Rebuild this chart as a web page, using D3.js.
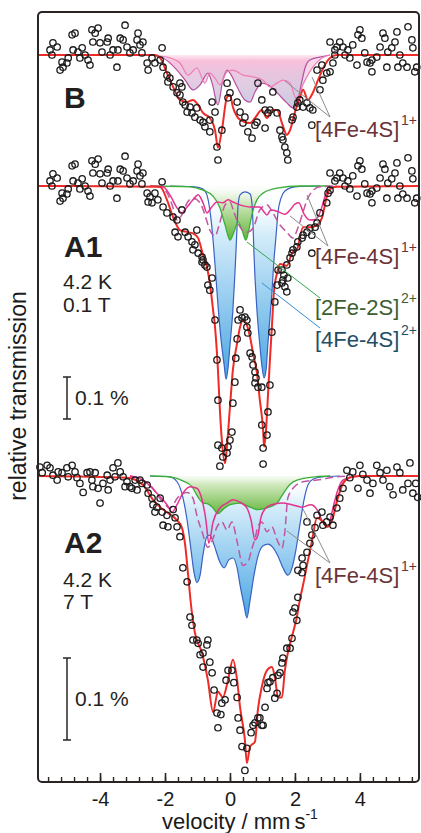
<!DOCTYPE html>
<html>
<head>
<meta charset="utf-8">
<script src="https://cdn.jsdelivr.net/npm/d3@7"></script>
<style>
body { margin: 0; background: #fff; }
svg { display: block; }
text { font-family: "Liberation Sans", Arial, sans-serif; }
</style>
</head>
<body>
<div id="chart"></div>
<script>
// velocity (mm/s), relative transmission change (%)
var dataB = [
  [-5.45,0.029],[-5.54,0.012],[-5.48,0],[-5.32,0.019],[-5.17,-0.017],[-5.14,-0.029],[-5.23,-0.036],[-5.02,-0.019],[-4.98,-0.007],
  [-4.86,0.048],[-4.77,0.052],[-4.83,0.012],[-4.68,0.007],[-4.55,0.017],[-4.62,-0.007],[-4.46,0],[-4.37,-0.012],[-4.31,-0.024],
  [-4.25,0.06],[-4.22,0.031],[-4.15,0.052],[-4.06,0.064],[-4.0,0.029],[-3.94,0.007],[-3.78,0.031],[-3.75,0.040],[-3.69,0],
  [-3.6,0.012],[-3.48,-0.029],[-3.45,0.012],[-3.38,0.040],[-3.23,0.071],[-3.29,0.036],[-3.17,0.019],[-3.08,0.005],[-2.98,0.012],
  [-2.86,0.036],[-2.83,0.052],[-2.77,0.024],[-2.71,0.005],[-2.68,0.031],[-2.55,-0.019],[-2.52,-0.036],[-2.4,-0.007],[-2.31,-0.019],
  [-2.09,0.017],[-2.15,-0.012],
  [-2.06,-0.029],[-1.94,-0.048],[-1.85,-0.055],[-1.91,-0.064],[-1.75,-0.076],[-1.54,-0.067],[-1.48,-0.076],[-1.63,-0.090],
  [-1.54,-0.095],[-1.45,-0.112],[-1.38,-0.119],[-1.23,-0.124],[-1.32,-0.136],[-1.17,-0.138],[-1.08,-0.148],[-1.02,-0.126],
  [-0.92,-0.155],[-0.83,-0.160],[-0.77,-0.171],[-0.62,-0.155],[-0.55,-0.112],[-0.46,-0.136],[-0.62,-0.183],[-0.25,-0.179],
  [-0.40,-0.219],[-0.37,-0.250],[-0.09,-0.067],[0,-0.090],[-0.06,-0.102],[0.22,-0.112],[0.31,-0.136],[0.46,-0.148],[0.40,-0.162],
  [0.55,-0.183],[0.68,-0.198],[0.77,-0.167],[0.83,-0.160],[0.86,-0.067],[0.98,-0.107],[1.08,-0.131],[1.08,-0.174],[1.17,-0.138],
  [1.23,-0.131],[1.32,-0.088],[1.45,-0.138],[1.54,-0.179],[1.60,-0.195],[1.63,-0.202],[1.69,-0.219],[1.75,-0.233],[1.78,-0.25],
  [1.94,-0.148],[1.91,-0.155],[2.06,-0.124],[2.09,-0.114],[2.15,-0.107],[2.25,-0.124],[2.37,-0.114],[2.46,-0.126],[2.55,-0.131],
  [2.52,-0.167],[2.68,-0.036],[2.83,-0.024],[2.98,-0.043],[3.08,-0.040],[3.17,-0.019],[3.23,0],[2.77,-0.083],[2.86,-0.060],
  [3.08,0.031],[3.23,0.012],[3.38,0.031],[3.48,0.019],[3.54,0],[3.63,0.012],[3.69,-0.007],[3.78,0.024],[3.94,0.048],[4.0,0.060],
  [4.06,0.040],[4.15,0.005],[4.22,-0.017],[4.31,-0.019],[4.37,-0.040],[4.52,-0.005],[4.62,0.019],[4.71,0.052],[4.77,0.040],
  [4.83,-0.029],[4.86,0.007],[4.98,0.017],[5.08,0.031],[5.14,0.055],[5.17,-0.029],[5.23,0],[5.32,-0.019],[5.45,-0.029],
  [5.48,0.067],[5.6,0.036],[5.63,0.017],[5.69,-0.040],[5.75,-0.029],[3.91,-0.024],[4.37,-0.012],[3.29,0.019]
];
var fitB = [
  [-5.9,0],[-2.31,0],[-2.15,-0.007],[-1.94,-0.043],[-1.75,-0.076],[-1.54,-0.107],[-1.32,-0.112],[-1.14,-0.107],[-0.98,-0.119],
  [-0.83,-0.138],[-0.62,-0.150],[-0.46,-0.179],[-0.37,-0.221],[-0.25,-0.179],[-0.09,-0.100],[0,-0.095],[0.09,-0.124],[0.25,-0.150],
  [0.46,-0.160],[0.62,-0.162],[0.77,-0.150],[0.98,-0.131],[1.14,-0.150],[1.29,-0.131],[1.45,-0.131],[1.60,-0.162],[1.75,-0.190],
  [1.85,-0.179],[2.0,-0.136],[2.15,-0.102],[2.25,-0.083],[2.40,-0.107],[2.55,-0.090],[2.71,-0.060],[2.92,-0.024],[3.08,-0.007],
  [3.29,0],[5.85,0]
];
var subB1 = [
  [-2.46,0],[-2.06,-0.007],[-1.63,-0.036],[-1.38,-0.060],[-1.14,-0.083],[-0.92,-0.071],[-0.68,-0.043],[-0.55,-0.067],[-0.37,-0.119],
  [-0.22,-0.060],[-0.09,-0.036],[0,-0.043],[0.22,-0.076],[0.46,-0.107],[0.62,-0.112],[0.77,-0.088],[0.98,-0.067],[1.17,-0.071],
  [1.45,-0.090],[1.75,-0.114],[1.94,-0.126],[2.09,-0.107],[2.22,-0.060],[2.31,-0.031],[2.46,-0.012],[2.77,-0.005],[3.08,0]
];
var subB2 = [
  [-2.46,0],[-1.85,-0.007],[-1.54,-0.019],[-1.29,-0.048],[-1.02,-0.031],[-0.77,-0.067],[-0.62,-0.043],[-0.46,-0.055],[-0.31,-0.071],
  [-0.09,-0.040],[0.09,-0.036],[0.40,-0.048],[0.71,-0.052],[1.02,-0.060],[1.23,-0.076],[1.45,-0.067],[1.63,-0.060],[1.85,-0.067],
  [2.0,-0.100],[2.09,-0.112],[2.22,-0.076],[2.37,-0.052],[2.55,-0.029],[2.83,-0.007],[3.08,0]
];

var dataA1 = [
  [-5.45,0.029],[-5.54,0.012],[-5.48,0],[-5.32,0.019],[-5.17,-0.017],[-5.14,-0.029],[-5.23,-0.036],[-5.02,-0.019],[-4.98,-0.007],
  [-4.86,0.048],[-4.77,0.052],[-4.83,0.012],[-4.68,0.007],[-4.55,0.017],[-4.62,-0.007],[-4.46,0],[-4.37,-0.012],[-4.31,-0.024],
  [-4.25,0.06],[-4.22,0.031],[-4.15,0.052],[-4.06,0.064],[-4.0,0.029],[-3.94,0.007],[-3.78,0.031],[-3.75,0.040],[-3.69,0],
  [-3.6,0.012],[-3.48,-0.029],[-3.45,0.012],[-3.38,0.040],[-3.23,0.071],[-3.29,0.036],[-3.17,0.019],[-3.08,0.005],[-2.98,0.012],
  [-2.86,0.036],[-2.83,0.052],[-2.77,0.024],[-2.71,0.005],[-2.68,0.031],
  [-2.55,-0.017],[-2.46,-0.026],[-2.31,-0.017],[-2.52,-0.038],[-2.40,-0.040],[-2.09,0.010],[-2.22,-0.033],[-2.06,-0.050],
  [-1.94,-0.064],[-1.75,-0.074],[-1.63,-0.081],[-1.48,-0.057],[-1.69,-0.110],[-1.60,-0.121],[-1.38,-0.110],[-1.29,-0.121],
  [-1.17,-0.133],[-1.02,-0.105],[-1.08,-0.140],[-1.14,-0.152],[-0.98,-0.160],[-0.86,-0.169],[-0.83,-0.176],[-0.71,-0.193],
  [-0.77,-0.188],[-0.68,-0.236],[-0.62,-0.248],[-0.55,-0.219],[-0.86,-0.181],[-0.46,-0.319],[-0.40,-0.414],[-0.37,-0.510],
  [-0.37,-0.617],[-0.25,-0.624],[-0.22,-0.645],[-0.31,-0.667],[-0.09,-0.636],[-0.06,-0.621],[0,-0.605],[0.06,-0.586],
  [0.09,-0.517],[0.15,-0.467],[0.18,-0.410],[0.22,-0.364],[0.31,-0.295],[0.25,-0.319],[0.37,-0.314],[0.46,-0.312],[0.52,-0.319],
  [0.52,-0.336],[0.55,-0.350],[0.62,-0.398],[0.68,-0.407],[0.71,-0.426],[0.77,-0.443],[0.80,-0.457],[0.77,-0.469],[0.86,-0.479],
  [0.98,-0.479],[0.98,-0.569],[1.02,-0.624],[1.02,-0.662],[1.14,-0.593],[1.17,-0.538],[1.23,-0.474],[1.29,-0.348],[1.38,-0.276],
  [1.45,-0.236],[1.48,-0.200],[1.60,-0.231],[1.63,-0.224],[1.69,-0.240],[1.75,-0.252],[1.78,-0.219],[1.66,-0.212],[1.60,-0.200],
  [1.75,-0.188],[1.85,-0.171],[1.91,-0.160],[1.94,-0.152],[2.06,-0.145],[2.09,-0.133],[2.22,-0.124],[2.25,-0.117],[2.37,-0.110],
  [2.52,-0.117],[2.46,-0.100],[2.62,-0.098],[2.68,-0.088],[2.77,-0.064],[2.98,-0.040],[3.02,-0.017],[3.08,-0.010],[2.52,-0.160],
  [3.08,0.031],[3.23,0.012],[3.38,0.031],[3.48,0.019],[3.54,0],[3.63,0.012],[3.69,-0.007],[3.78,0.024],[3.94,0.048],[4.0,0.060],
  [4.06,0.040],[4.15,0.005],[4.22,-0.017],[4.31,-0.019],[4.37,-0.040],[4.52,-0.005],[4.62,0.019],[4.71,0.052],[4.77,0.040],
  [4.83,-0.029],[4.86,0.007],[4.98,0.017],[5.08,0.031],[5.14,0.055],[5.17,-0.029],[5.23,0],[5.32,-0.019],[5.45,-0.029],
  [5.48,0.067],[5.6,0.036],[5.63,0.017],[5.69,-0.040],[5.75,-0.029],[3.91,-0.024],[4.37,-0.012],[3.29,0.019]
];
var fitA1 = [
  [-5.9,0],[-2.15,-0.002],[-1.94,-0.033],[-1.75,-0.074],[-1.54,-0.105],[-1.29,-0.110],[-1.11,-0.114],[-0.98,-0.124],[-0.83,-0.164],
  [-0.71,-0.193],[-0.62,-0.231],[-0.52,-0.295],[-0.46,-0.336],[-0.37,-0.438],[-0.31,-0.533],[-0.25,-0.605],[-0.15,-0.660],
  [-0.09,-0.617],[0,-0.526],[0.09,-0.438],[0.22,-0.374],[0.31,-0.336],[0.40,-0.319],[0.52,-0.331],[0.62,-0.360],[0.71,-0.398],
  [0.83,-0.445],[0.92,-0.510],[1.02,-0.581],[1.05,-0.621],[1.11,-0.581],[1.17,-0.498],[1.23,-0.414],[1.29,-0.336],[1.35,-0.255],
  [1.45,-0.207],[1.54,-0.186],[1.75,-0.190],[1.91,-0.160],[2.06,-0.152],[2.25,-0.098],[2.46,-0.098],[2.68,-0.093],[2.83,-0.076],
  [2.98,-0.026],[3.08,-0.007],[3.29,-0.002],[5.85,0]
];
var blueA1 = [
  [-1.85,0],[-1.08,-0.002],[-0.83,-0.007],[-0.71,-0.021],[-0.62,-0.057],[-0.52,-0.129],[-0.46,-0.188],[-0.37,-0.283],[-0.28,-0.362],
  [-0.18,-0.426],[-0.12,-0.460],[-0.06,-0.433],[0,-0.379],[0.09,-0.295],[0.15,-0.212],[0.18,-0.164],[0.22,-0.093],[0.25,-0.045],
  [0.31,-0.021],[0.46,-0.014],[0.62,-0.019],[0.68,-0.045],[0.71,-0.093],[0.74,-0.164],[0.83,-0.295],[0.92,-0.379],[0.98,-0.426],
  [1.05,-0.457],[1.11,-0.438],[1.17,-0.374],[1.23,-0.314],[1.29,-0.255],[1.35,-0.181],[1.42,-0.117],[1.48,-0.062],[1.57,-0.029],
  [1.69,-0.012],[2.0,-0.002],[2.77,0]
];
var greenA1 = [
  [-2.46,0],[-1.23,-0.002],[-0.83,-0.010],[-0.52,-0.024],[-0.31,-0.052],[-0.15,-0.093],[0,-0.129],[0.12,-0.110],[0.25,-0.086],
  [0.37,-0.105],[0.49,-0.129],[0.58,-0.105],[0.68,-0.067],[0.83,-0.033],[1.02,-0.017],[1.45,-0.005],[2.15,0],[3.08,0]
];
var pinkA1 = [
  [-2.46,0],[-2.06,-0.002],[-1.85,-0.021],[-1.63,-0.052],[-1.48,-0.064],[-1.32,-0.050],[-1.14,-0.033],[-0.98,-0.021],[-0.83,-0.040],
  [-0.71,-0.064],[-0.58,-0.052],[-0.40,-0.038],[-0.22,-0.040],[-0.06,-0.033],[0.09,-0.038],[0.31,-0.045],[0.62,-0.050],[0.92,-0.050],
  [1.05,-0.062],[1.14,-0.069],[1.26,-0.057],[1.45,-0.060],[1.69,-0.067],[1.85,-0.057],[2.0,-0.043],[2.12,-0.040],[2.28,-0.067],
  [2.46,-0.081],[2.65,-0.079],[2.80,-0.057],[2.92,-0.026],[3.08,-0.007],[3.29,0]
];
var dashA1 = [
  [-2.31,0],[-2.0,-0.010],[-1.78,-0.045],[-1.63,-0.081],[-1.48,-0.069],[-1.32,-0.040],[-1.14,-0.029],[-0.92,-0.040],[-0.77,-0.069],
  [-0.62,-0.105],[-0.46,-0.119],[-0.31,-0.086],[-0.15,-0.045],[0,-0.038],[0.12,-0.062],[0.31,-0.098],[0.52,-0.110],[0.71,-0.100],
  [0.92,-0.057],[1.14,-0.045],[1.32,-0.064],[1.54,-0.093],[1.75,-0.110],[1.94,-0.124],[2.09,-0.100],[2.25,-0.062],[2.37,-0.033],
  [2.52,-0.014],[2.77,-0.002],[3.23,0]
];

var dataA2 = [
  [-5.85,0.011],[-5.78,0.004],[-5.63,0.013],[-5.54,0.010],[-5.45,0.001],[-5.32,-0.005],[-5.29,0.005],[-5.17,0.004],[-5.02,0.010],
  [-4.98,-0.001],[-4.86,0.013],[-4.77,0.005],[-4.71,-0.002],[-4.62,-0.009],[-4.52,-0.020],[-4.40,0.004],[-4.31,0.005],[-4.25,-0.005],
  [-4.22,-0.013],[-4.15,0.004],[-4.06,-0.015],[-4.0,-0.033],[-3.91,-0.009],[-3.78,0.001],[-3.75,-0.017],[-3.69,-0.005],[-3.60,0.010],
  [-3.54,-0.001],[-3.45,0.016],[-3.38,0.005],[-3.29,-0.001],[-3.23,-0.013],[-3.17,-0.007],[-3.08,-0.013],[-3.02,-0.015],[-2.92,-0.005],
  [-2.86,-0.017],[-2.77,-0.005],[-2.71,-0.009],[-2.55,-0.011],[-2.52,-0.021],[-2.40,-0.027],[-2.37,-0.035],[-2.31,-0.044],[-2.25,-0.038],
  [-2.15,-0.027],[-2.09,-0.044],[-2.06,-0.060],[-1.94,-0.048],[-1.91,-0.062],[-1.75,-0.041],[-1.69,-0.051],[-1.63,-0.062],[-1.54,-0.074],
  [-1.45,-0.112],[-1.32,-0.129],
  [-1.23,-0.172],[-1.17,-0.182],[-1.14,-0.200],[-1.02,-0.200],[-0.98,-0.204],[-0.92,-0.218],[-0.83,-0.216],[-0.83,-0.233],[-0.71,-0.206],
  [-0.68,-0.200],[-0.62,-0.227],[-0.55,-0.240],[-0.49,-0.261],[-0.40,-0.289],[-0.37,-0.307],[-0.28,-0.291],[-0.25,-0.277],[-0.15,-0.273],
  [-0.12,-0.249],[-0.06,-0.237],[0.06,-0.237],[0.12,-0.252],[0.22,-0.270],[0.25,-0.295],[0.31,-0.310],[0.37,-0.330],[0.52,-0.332],
  [0.46,-0.359],[0.65,-0.313],[0.71,-0.304],[0.77,-0.301],[0.86,-0.295],[0.98,-0.304],[1.02,-0.304],[0.92,-0.295],[1.08,-0.282],
  [1.14,-0.259],[1.17,-0.252],[1.23,-0.251],[1.32,-0.246],[1.38,-0.271],[1.45,-0.265],[1.48,-0.243],[1.54,-0.240],[1.60,-0.228],
  [1.63,-0.222],[1.75,-0.210],[1.85,-0.210],[1.91,-0.198],[1.94,-0.166],[2.0,-0.161],[2.06,-0.176],[2.09,-0.148],[2.09,-0.115],
  [2.22,-0.118],[2.22,-0.100],[2.25,-0.109],[2.37,-0.093],[2.46,-0.082],[2.52,-0.072],[2.37,-0.056],[2.62,-0.063],[2.68,-0.048],
  [2.83,-0.044],[2.86,-0.060],[2.98,-0.056],[3.08,-0.050],[3.17,-0.060],[3.29,-0.039],[3.38,-0.027],[3.48,-0.015],[3.60,0.007],
  [3.69,-0.002],[3.78,0.005],[3.94,-0.015],[4.0,0.013],[4.09,0.002],[4.22,-0.005],[4.31,-0.021],[4.40,-0.009],[4.52,0.013],
  [4.62,0.004],[4.71,-0.005],[4.83,0.007],[4.92,-0.013],[5.02,-0.023],[5.14,0.011],[5.23,0.004],[5.32,-0.017],[5.48,-0.009],
  [5.54,0.016],[5.63,-0.021],[5.72,-0.009],[5.78,-0.026]
];
var fitA2 = [
  [-5.9,0],[-3.17,-0.002],[-2.68,-0.011],[-2.37,-0.029],[-2.06,-0.041],[-1.63,-0.054],[-1.48,-0.063],[-1.38,-0.084],[-1.29,-0.120],
  [-1.20,-0.157],[-1.08,-0.191],[-0.86,-0.216],[-0.68,-0.249],[-0.52,-0.288],[-0.37,-0.263],[-0.22,-0.270],[-0.06,-0.249],
  [0.09,-0.224],[0.22,-0.249],[0.31,-0.282],[0.46,-0.322],[0.52,-0.350],[0.62,-0.330],[0.77,-0.324],[0.86,-0.285],[0.98,-0.257],
  [1.14,-0.237],[1.29,-0.233],[1.38,-0.245],[1.48,-0.270],[1.60,-0.270],[1.69,-0.237],[1.78,-0.216],[1.94,-0.191],[2.06,-0.172],
  [2.15,-0.151],[2.25,-0.133],[2.37,-0.109],[2.52,-0.080],[2.68,-0.051],[2.86,-0.056],[2.98,-0.062],[3.14,-0.054],[3.32,-0.027],
  [3.48,-0.009],[3.69,-0.002],[4.0,0],[5.85,0]
];
var blueA2 = [
  [-2.46,0],[-1.85,-0.001],[-1.63,-0.007],[-1.45,-0.026],[-1.32,-0.054],[-1.20,-0.090],[-1.11,-0.117],[-1.02,-0.130],[-0.92,-0.121],
  [-0.83,-0.096],[-0.71,-0.074],[-0.62,-0.072],[-0.49,-0.084],[-0.31,-0.105],[-0.18,-0.112],[-0.03,-0.102],[0.09,-0.100],[0.22,-0.112],
  [0.31,-0.133],[0.43,-0.157],[0.52,-0.173],[0.62,-0.151],[0.74,-0.121],[0.86,-0.098],[1.02,-0.085],[1.17,-0.083],[1.32,-0.087],
  [1.48,-0.098],[1.63,-0.112],[1.78,-0.121],[1.91,-0.112],[2.03,-0.090],[2.15,-0.060],[2.28,-0.029],[2.40,-0.011],[2.55,-0.004],
  [2.83,-0.001],[3.38,0]
];
var greenA2 = [
  [-2.46,0],[-1.85,-0.001],[-1.45,-0.006],[-1.17,-0.013],[-0.98,-0.026],[-0.83,-0.033],[-0.68,-0.034],[-0.52,-0.039],[-0.37,-0.046],
  [-0.22,-0.041],[0,-0.035],[0.31,-0.033],[0.62,-0.038],[0.86,-0.041],[1.14,-0.039],[1.45,-0.033],[1.63,-0.022],[1.85,-0.010],
  [2.15,-0.004],[2.62,-0.001],[3.08,0]
];
var pinkA2 = [
  [-3.08,0],[-2.68,-0.005],[-2.25,-0.021],[-1.94,-0.035],[-1.78,-0.044],[-1.63,-0.035],[-1.45,-0.021],[-1.23,-0.013],[-1.02,-0.015],
  [-0.86,-0.029],[-0.74,-0.054],[-0.65,-0.082],[-0.52,-0.056],[-0.31,-0.039],[-0.09,-0.033],[0.09,-0.029],[0.31,-0.032],[0.52,-0.039],
  [0.65,-0.054],[0.77,-0.078],[0.86,-0.072],[0.95,-0.051],[1.08,-0.040],[1.29,-0.035],[1.60,-0.033],[1.91,-0.035],[2.22,-0.038],
  [2.49,-0.035],[2.68,-0.041],[2.83,-0.054],[3.02,-0.062],[3.17,-0.039],[3.32,-0.017],[3.48,-0.005],[3.75,-0.001],[4.0,0]
];
var dashA2 = [
  [-3.08,0],[-2.46,-0.011],[-2.06,-0.032],[-1.85,-0.039],[-1.60,-0.026],[-1.32,-0.020],[-1.14,-0.027],[-1.02,-0.048],[-0.86,-0.068],
  [-0.68,-0.087],[-0.52,-0.076],[-0.40,-0.062],[-0.25,-0.056],[-0.09,-0.066],[0.06,-0.056],[0.22,-0.080],[0.40,-0.109],[0.55,-0.105],
  [0.68,-0.088],[0.77,-0.076],[0.86,-0.062],[0.98,-0.056],[1.14,-0.068],[1.29,-0.062],[1.45,-0.078],[1.60,-0.088],[1.69,-0.068],
  [1.78,-0.027],[1.94,-0.015],[2.25,-0.007],[2.68,-0.005],[3.29,-0.001],[3.69,0]
];

var majorTicks = [-4, -2, 0, 2, 4];
var minorTicks = d3.range(-14, 15).map(function (i) { return i * 0.4; });

// SVG
var chart_width = 421;
var chart_height = 833;
var svg = d3.select('#chart')
    .append('svg')
    .attr('width', chart_width)
    .attr('height', chart_height);

var x = d3.scaleLinear().domain([-5.91, 5.85]).range([38, 420]);
var yB = d3.scaleLinear().domain([0, -0.1]).range([55, 97]);
var yA1 = d3.scaleLinear().domain([0, -0.1]).range([186, 228]);
var yA2 = d3.scaleLinear().domain([0, -0.1]).range([476, 558]);

// gradients
var defs = svg.append('defs');
function grad(id, y1, y2, stops) {
    var g = defs.append('linearGradient').attr('id', id)
        .attr('gradientUnits', 'userSpaceOnUse')
        .attr('x1', 0).attr('x2', 0).attr('y1', y1).attr('y2', y2);
    stops.forEach(function (s) {
        g.append('stop').attr('offset', s[0]).attr('stop-color', s[1]).attr('stop-opacity', s[2]);
    });
}
grad('gB', 48, 112, [[0, '#ffffff', 0], [0.2, '#f7bcd8', 1], [0.55, '#dcc4de', 1], [1, '#bcc2dc', 1]]);
grad('gBlue1', 186, 380, [[0, '#ffffff', 0], [0.25, '#d4ecfa', 1], [1, '#4aa6e2', 1]]);
grad('gGreen1', 182, 242, [[0, '#ffffff', 0], [0.35, '#cfe8bd', 1], [1, '#5cb133', 1]]);
grad('gBlue2', 476, 620, [[0, '#ffffff', 0], [0.2, '#d8eefa', 1], [1, '#45a3e4', 1]]);
grad('gGreen2', 470, 515, [[0, '#ffffff', 0], [0.3, '#d5ebc4', 1], [1, '#62b437', 1]]);

function line(y) {
    return d3.line()
        .x(function (d) { return x(d[0]); })
        .y(function (d) { return y(d[1]); })
        .curve(d3.curveMonotoneX);
}
function area(y) {
    return d3.area()
        .x(function (d) { return x(d[0]); })
        .y0(y(0))
        .y1(function (d) { return y(d[1]); })
        .curve(d3.curveMonotoneX);
}
function fillArea(data, y, fill, op) {
    svg.append('path').datum(data).attr('d', area(y)).attr('fill', fill).attr('fill-opacity', op || 1);
}
function drawLine(data, y, color, w, dash) {
    svg.append('path').datum(data).attr('d', line(y))
        .attr('fill', 'none').attr('stroke', color).attr('stroke-width', w)
        .attr('stroke-dasharray', dash || null).attr('stroke-linejoin', 'round');
}
function drawPoints(data, y) {
    svg.append('g').selectAll('circle')
        .data(data)
        .enter()
        .append('circle')
        .attr('cx', function (d) { return x(d[0]); })
        .attr('cy', function (d) { return y(d[1]); })
        .attr('r', 3.2)
        .attr('fill', 'none')
        .attr('stroke', '#1c1a1a')
        .attr('stroke-width', 1.3);
}

// Panel B
fillArea(subB1, yB, 'url(#gB)', 0.85);
fillArea(subB2, yB, 'url(#gB)', 0.6);
drawLine(subB1, yB, '#b4509e', 1.2);
drawLine(subB2, yB, '#f07cb6', 1.2);
drawLine(fitB, yB, '#ee2b26', 2);
drawPoints(dataB, yB);

// Panel A1
fillArea(blueA1, yA1, 'url(#gBlue1)');
fillArea(greenA1, yA1, 'url(#gGreen1)');
drawLine(blueA1, yA1, '#3a62c2', 1.2);
drawLine(greenA1, yA1, '#3bae3b', 1.3);
drawLine(dashA1, yA1, '#c0579f', 1.5, '8,4');
drawLine(pinkA1, yA1, '#e6318e', 1.5);
drawLine(fitA1, yA1, '#ee2b26', 2);
drawPoints(dataA1, yA1);

// Panel A2
fillArea(blueA2, yA2, 'url(#gBlue2)');
fillArea(greenA2, yA2, 'url(#gGreen2)');
drawLine(blueA2, yA2, '#3a62c2', 1.2);
drawLine(greenA2, yA2, '#3bae3b', 1.3);
drawLine(dashA2, yA2, '#c0579f', 1.5, '8,4');
drawLine(pinkA2, yA2, '#e6318e', 1.5);
drawLine(fitA2, yA2, '#ee2b26', 2);
drawPoints(dataA2, yA2);

// frame
svg.append('rect')
    .attr('x', 38).attr('y', 12).attr('width', 381).attr('height', 770).attr('rx', 4)
    .attr('fill', 'none').attr('stroke', '#2a2422').attr('stroke-width', 2);

// x axis ticks pointing inward
svg.append('g')
    .attr('transform', 'translate(0,782)')
    .call(d3.axisBottom(x).tickValues(minorTicks).tickSize(-5).tickFormat(''))
    .call(function (g) { g.select('.domain').remove(); })
    .selectAll('line').attr('stroke', '#2a2422').attr('stroke-width', 1.4);
var xAxis = svg.append('g')
    .attr('transform', 'translate(0,782)')
    .call(d3.axisBottom(x).tickValues(majorTicks).tickSize(-9).tickPadding(10)
        .tickFormat(function (d) { return d < 0 ? '-' + Math.abs(d) : d; }));
xAxis.select('.domain').remove();
xAxis.selectAll('line').attr('stroke', '#2a2422').attr('stroke-width', 1.6);
xAxis.selectAll('text').attr('font-size', 20).attr('fill', '#1a1a1a')
    .attr('font-family', '"Liberation Sans", Arial, sans-serif');

// axis titles
var xt = svg.append('text').attr('x', 240).attr('y', 829).attr('text-anchor', 'middle')
    .attr('font-size', 22).attr('fill', '#1a1a1a').text('velocity / mm');
xt.append('tspan').attr('dx', 4).text('s');
xt.append('tspan').attr('dy', -10).attr('font-size', 14).text('-1');

svg.append('text')
    .attr('transform', 'translate(26,396) rotate(-90)')
    .attr('text-anchor', 'middle').attr('font-size', 23).attr('fill', '#1a1a1a')
    .text('relative transmission');

// panel labels
function label(txt, px, py, size, weight) {
    svg.append('text').attr('x', px).attr('y', py).attr('font-size', size)
        .attr('font-weight', weight || 'normal').attr('fill', '#231f20').text(txt);
}
label('B', 64, 108, 30, 'bold');
label('A1', 64, 257, 30, 'bold');
label('4.2 K', 63, 289, 21);
label('0.1 T', 63, 312, 21);
label('A2', 64, 553, 30, 'bold');
label('4.2 K', 63, 587, 21);
label('7 T', 63, 609, 21);

// scale bars
function scaleBar(y, top) {
    var len = y(-0.1) - y(0);
    var g = svg.append('g').attr('stroke', '#2a2422').attr('stroke-width', 1.5);
    g.append('line').attr('x1', 67).attr('x2', 67).attr('y1', top).attr('y2', top + len);
    g.append('line').attr('x1', 63).attr('x2', 71).attr('y1', top).attr('y2', top);
    g.append('line').attr('x1', 63).attr('x2', 71).attr('y1', top + len).attr('y2', top + len);
    svg.append('text').attr('x', 75).attr('y', top + len / 2 + 7).attr('font-size', 21)
        .attr('fill', '#231f20').text('0.1 %');
}
scaleBar(yA1, 377);
scaleBar(yA2, 658);

// species annotations
function leader(x1, y1, x2, y2, color) {
    svg.append('line').attr('x1', x1).attr('y1', y1).attr('x2', x2).attr('y2', y2)
        .attr('stroke', color).attr('stroke-width', 1);
}
function species(txt, sup, px, py, color) {
    svg.append('text').attr('x', px).attr('y', py).attr('font-size', 22).attr('fill', color).text(txt);
    svg.append('text').attr('x', 401).attr('y', py - 12).attr('font-size', 14).attr('fill', color).text(sup);
}
leader(330, 117, 285, 81, '#8c8c8c');
leader(330, 117, 312, 77, '#8c8c8c');
species('[4Fe-4S]', '1+', 315, 137, '#6b3337');

leader(328, 246, 290, 216, '#8c8c8c');
leader(328, 246, 307, 195, '#8c8c8c');
species('[4Fe-4S]', '1+', 315, 264, '#6b3337');

leader(247, 242, 320, 298, '#34a84a');
species('[2Fe-2S]', '2+', 315, 315, '#3d5f2f');

leader(262, 283, 320, 328, '#2f8fd6');
species('[4Fe-4S]', '2+', 315, 347, '#1f4f66');

leader(330, 563, 287, 531, '#8c8c8c');
leader(330, 563, 303, 509, '#8c8c8c');
species('[4Fe-4S]', '1+', 315, 583, '#6b3337');
</script>
</body>
</html>
